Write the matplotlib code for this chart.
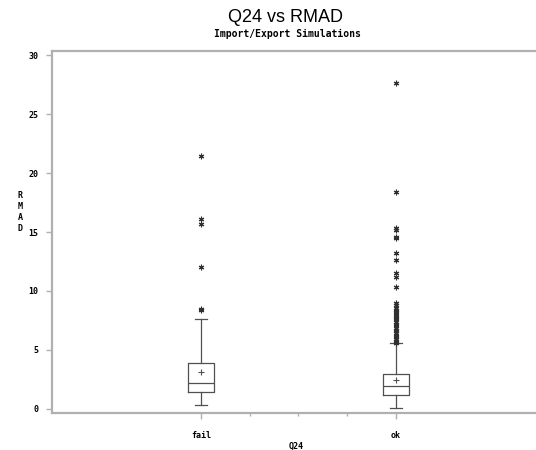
import matplotlib
matplotlib.use("Agg")
import matplotlib.pyplot as plt

# ---- data ----
categories = ["fail", "ok"]
q1 = [1.44, 1.19]
median = [2.18, 1.98]
q3 = [3.92, 2.94]
mean = [3.11, 2.46]
whisker_low = [0.31, 0.06]
whisker_high = [7.6, 5.57]
outliers_fail = [21.4, 16.1, 15.7, 12.0, 8.5, 8.4]
outliers_ok = [27.6, 18.4, 15.3, 15.2, 14.6, 14.5, 13.2, 12.6, 11.5, 11.2,
               10.3, 9.0, 8.8, 8.6, 8.4, 8.3, 8.2, 8.0, 7.9, 7.7, 7.6, 7.4,
               7.2, 7.1, 6.9, 6.7, 6.6, 6.4, 6.2, 6.1, 5.9, 5.8, 5.7, 5.6]
yticks = [0, 5, 10, 15, 20, 25, 30]

fig = plt.figure(figsize=(5.36, 4.5), dpi=100)
ax = fig.add_axes([52/536, 37/450, 1 - 52/536, (413 - 51)/450])

stats = []
fliers = [outliers_fail, outliers_ok]
for i, c in enumerate(categories):
    stats.append(dict(label=c, q1=q1[i], med=median[i], q3=q3[i], mean=mean[i],
                      whislo=whisker_low[i], whishi=whisker_high[i], fliers=fliers[i]))

line = dict(color="#505050", linewidth=0.9)
ax.bxp(stats, positions=[1, 2], widths=0.13, showmeans=True, showfliers=True,
       boxprops=line, whiskerprops=line, capprops=line, medianprops=line,
       capwidths=0.065,
       meanprops=dict(marker="+", markeredgecolor="#505050", markersize=5, markeredgewidth=0.8),
       flierprops=dict(marker=(6, 2, 0), markeredgecolor="#303030", markersize=4,
                       markeredgewidth=0.8, linestyle="none"))

ax.set_xlim(0.236, 2.718)
ax.set_ylim(-0.34, 30.34)

gray = "#b0b0b0"
for s in ["left", "bottom", "top"]:
    ax.spines[s].set_color(gray)
    ax.spines[s].set_linewidth(1.6)
ax.spines["right"].set_visible(False)

mono = dict(family="DejaVu Sans Mono", weight="bold", size=6)
ax.set_yticks(yticks)
ax.set_yticklabels([str(v) for v in yticks], fontdict=mono)
ax.set_xticks([1, 2])
ax.set_xticklabels(categories, fontdict=mono)
ax.set_xticks([1.25, 1.5, 1.75], minor=True)
ax.tick_params(axis="both", which="major", length=4, width=1, color=gray, pad=6)
ax.tick_params(axis="x", which="minor", length=2, width=1, color=gray)
ax.tick_params(axis="x", which="major", pad=9)

fig.text(20/536, 1 - 212/450, "R\nM\nA\nD", ha="center", va="center",
         linespacing=1.25, **mono)
fig.text(296/536, 1 - 446/450, "Q24", ha="center", va="center", **mono)

fig.text(285/536, 1 - 17/450, "Q24 vs RMAD", ha="center", va="center",
         family="Liberation Sans", size=13)
fig.text(287/536, 1 - 34/450, "Import/Export Simulations", ha="center", va="center",
         family="DejaVu Sans Mono", weight="bold", size=7)

fig.savefig("out.png", dpi=100)
